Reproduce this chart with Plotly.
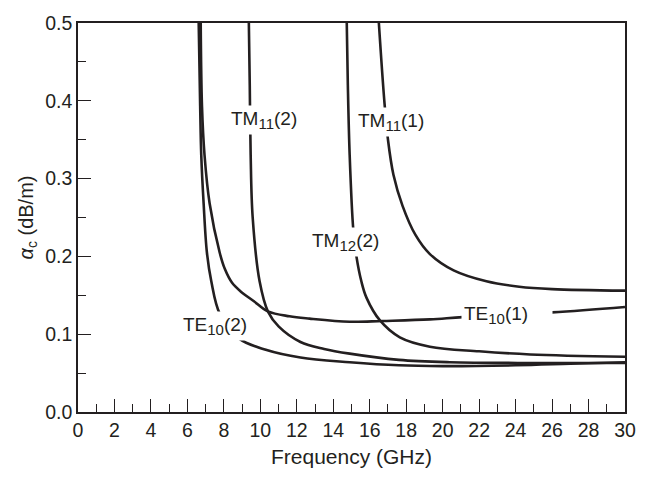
import plotly.graph_objects as go

# ---------------- data ----------------
te10_1_f = [6.73, 6.80, 6.94, 7.22, 7.77, 8.05, 8.45, 8.92, 9.63, 10.42, 11.6, 12.7, 14.9, 16.7, 19.3, 21.1, 26.0, 30.0]
te10_1_a = [0.500, 0.393, 0.330, 0.268, 0.205, 0.184, 0.166, 0.155, 0.1427, 0.1293, 0.123, 0.120, 0.116, 0.117, 0.119, 0.122, 0.128, 0.135]

te10_2_f = [6.62, 6.70, 6.76, 6.89, 7.07, 7.31, 7.78, 8.86, 10.3, 12.2, 14.9, 17.6, 20.0, 24.0, 27.0, 30.0]
te10_2_a = [0.500, 0.393, 0.330, 0.268, 0.205, 0.168, 0.126, 0.094, 0.080, 0.070, 0.064, 0.060, 0.059, 0.060, 0.062, 0.064]

tm11_2_f = [9.37, 9.42, 9.47, 9.58, 9.96, 10.42, 11.0, 12.2, 13.5, 14.9, 17.6, 20.4, 25.0, 30.0]
tm11_2_a = [0.500, 0.420, 0.330, 0.250, 0.168, 0.129, 0.110, 0.090, 0.081, 0.075, 0.067, 0.064, 0.063, 0.063]

tm12_2_f = [14.74, 14.80, 14.90, 15.10, 15.27, 15.54, 15.82, 16.55, 17.65, 19.3, 22.0, 24.8, 30.0]
tm12_2_a = [0.500, 0.420, 0.330, 0.234, 0.200, 0.168, 0.147, 0.118, 0.096, 0.084, 0.078, 0.074, 0.071]

tm11_1_f = [16.5, 16.8, 17.0, 17.3, 17.8, 18.5, 19.3, 20.6, 22.4, 24.2, 26.0, 30.0]
tm11_1_a = [0.500, 0.400, 0.350, 0.305, 0.265, 0.228, 0.203, 0.182, 0.168, 0.161, 0.158, 0.156]

SUB = "<sub><span style='font-size:15px'>{}</span></sub>"
curve_labels = ["TE" + SUB.format("10") + "(1)", "TE" + SUB.format("10") + "(2)",
                "TM" + SUB.format("11") + "(2)", "TM" + SUB.format("12") + "(2)",
                "TM" + SUB.format("11") + "(1)"]
label_x = [23.55, 7.49, 10.18, 14.65, 17.15]
label_y = [0.125, 0.111, 0.375, 0.218, 0.373]
label_w = [86, None, None, None, None]
label_align = ["left", "center", "center", "center", "center"]

x_ticks = list(range(0, 31, 2))
y_ticks = [0.0, 0.1, 0.2, 0.3, 0.4, 0.5]

# ---------------- figure ----------------
INK = "#231f20"
FONT = "Liberation Sans, Arial, Helvetica, sans-serif"

fig = go.Figure()
series = [(te10_1_f, te10_1_a), (te10_2_f, te10_2_a), (tm11_2_f, tm11_2_a),
          (tm12_2_f, tm12_2_a), (tm11_1_f, tm11_1_a)]
for fx, fy in series:
    fig.add_trace(go.Scatter(
        x=fx, y=fy, mode="lines",
        line=dict(color=INK, width=2.6, shape="spline", smoothing=1.0),
        showlegend=False, hoverinfo="skip"))

for txt, lx, ly, w, al in zip(curve_labels, label_x, label_y, label_w, label_align):
    fig.add_annotation(x=lx, y=ly, xref="x", yref="y", text=txt, showarrow=False,
                       font=dict(family=FONT, size=19, color=INK),
                       bgcolor="white", borderpad=2, width=w, align=al,
                       xanchor="center", yanchor="middle")

fig.update_layout(
    width=648, height=477,
    margin=dict(l=78, r=23, t=14, b=63),
    plot_bgcolor="white", paper_bgcolor="white",
    font=dict(family=FONT, size=19, color=INK),
)
fig.update_xaxes(
    range=[0, 30], tickvals=x_ticks, ticktext=[str(v) for v in x_ticks],
    ticks="inside", ticklen=13, tickwidth=1.3, tickcolor=INK,
    minor=dict(dtick=1, tick0=0, ticks="inside", ticklen=8, tickwidth=1.3, tickcolor=INK, showgrid=False),
    showline=True, linecolor=INK, linewidth=1.5, mirror=True,
    showgrid=False, zeroline=False,
    tickfont=dict(family=FONT, size=19.5, color=INK),
    title=dict(text="Frequency (GHz)", font=dict(family=FONT, size=21, color=INK), standoff=9),
)
fig.update_yaxes(
    range=[0, 0.5], tickvals=y_ticks, ticktext=[f"{v:.1f}" for v in y_ticks],
    ticks="inside", ticklen=13, tickwidth=1.3, tickcolor=INK,
    minor=dict(dtick=0.05, tick0=0, ticks="inside", ticklen=8, tickwidth=1.3, tickcolor=INK, showgrid=False),
    showline=True, linecolor=INK, linewidth=1.5, mirror=True,
    showgrid=False, zeroline=False,
    tickfont=dict(family=FONT, size=19.5, color=INK),
    title=dict(text="<i>α</i><sub>c</sub> (dB/m)", font=dict(family=FONT, size=20, color=INK), standoff=6),
)

fig.write_html("out.html")
